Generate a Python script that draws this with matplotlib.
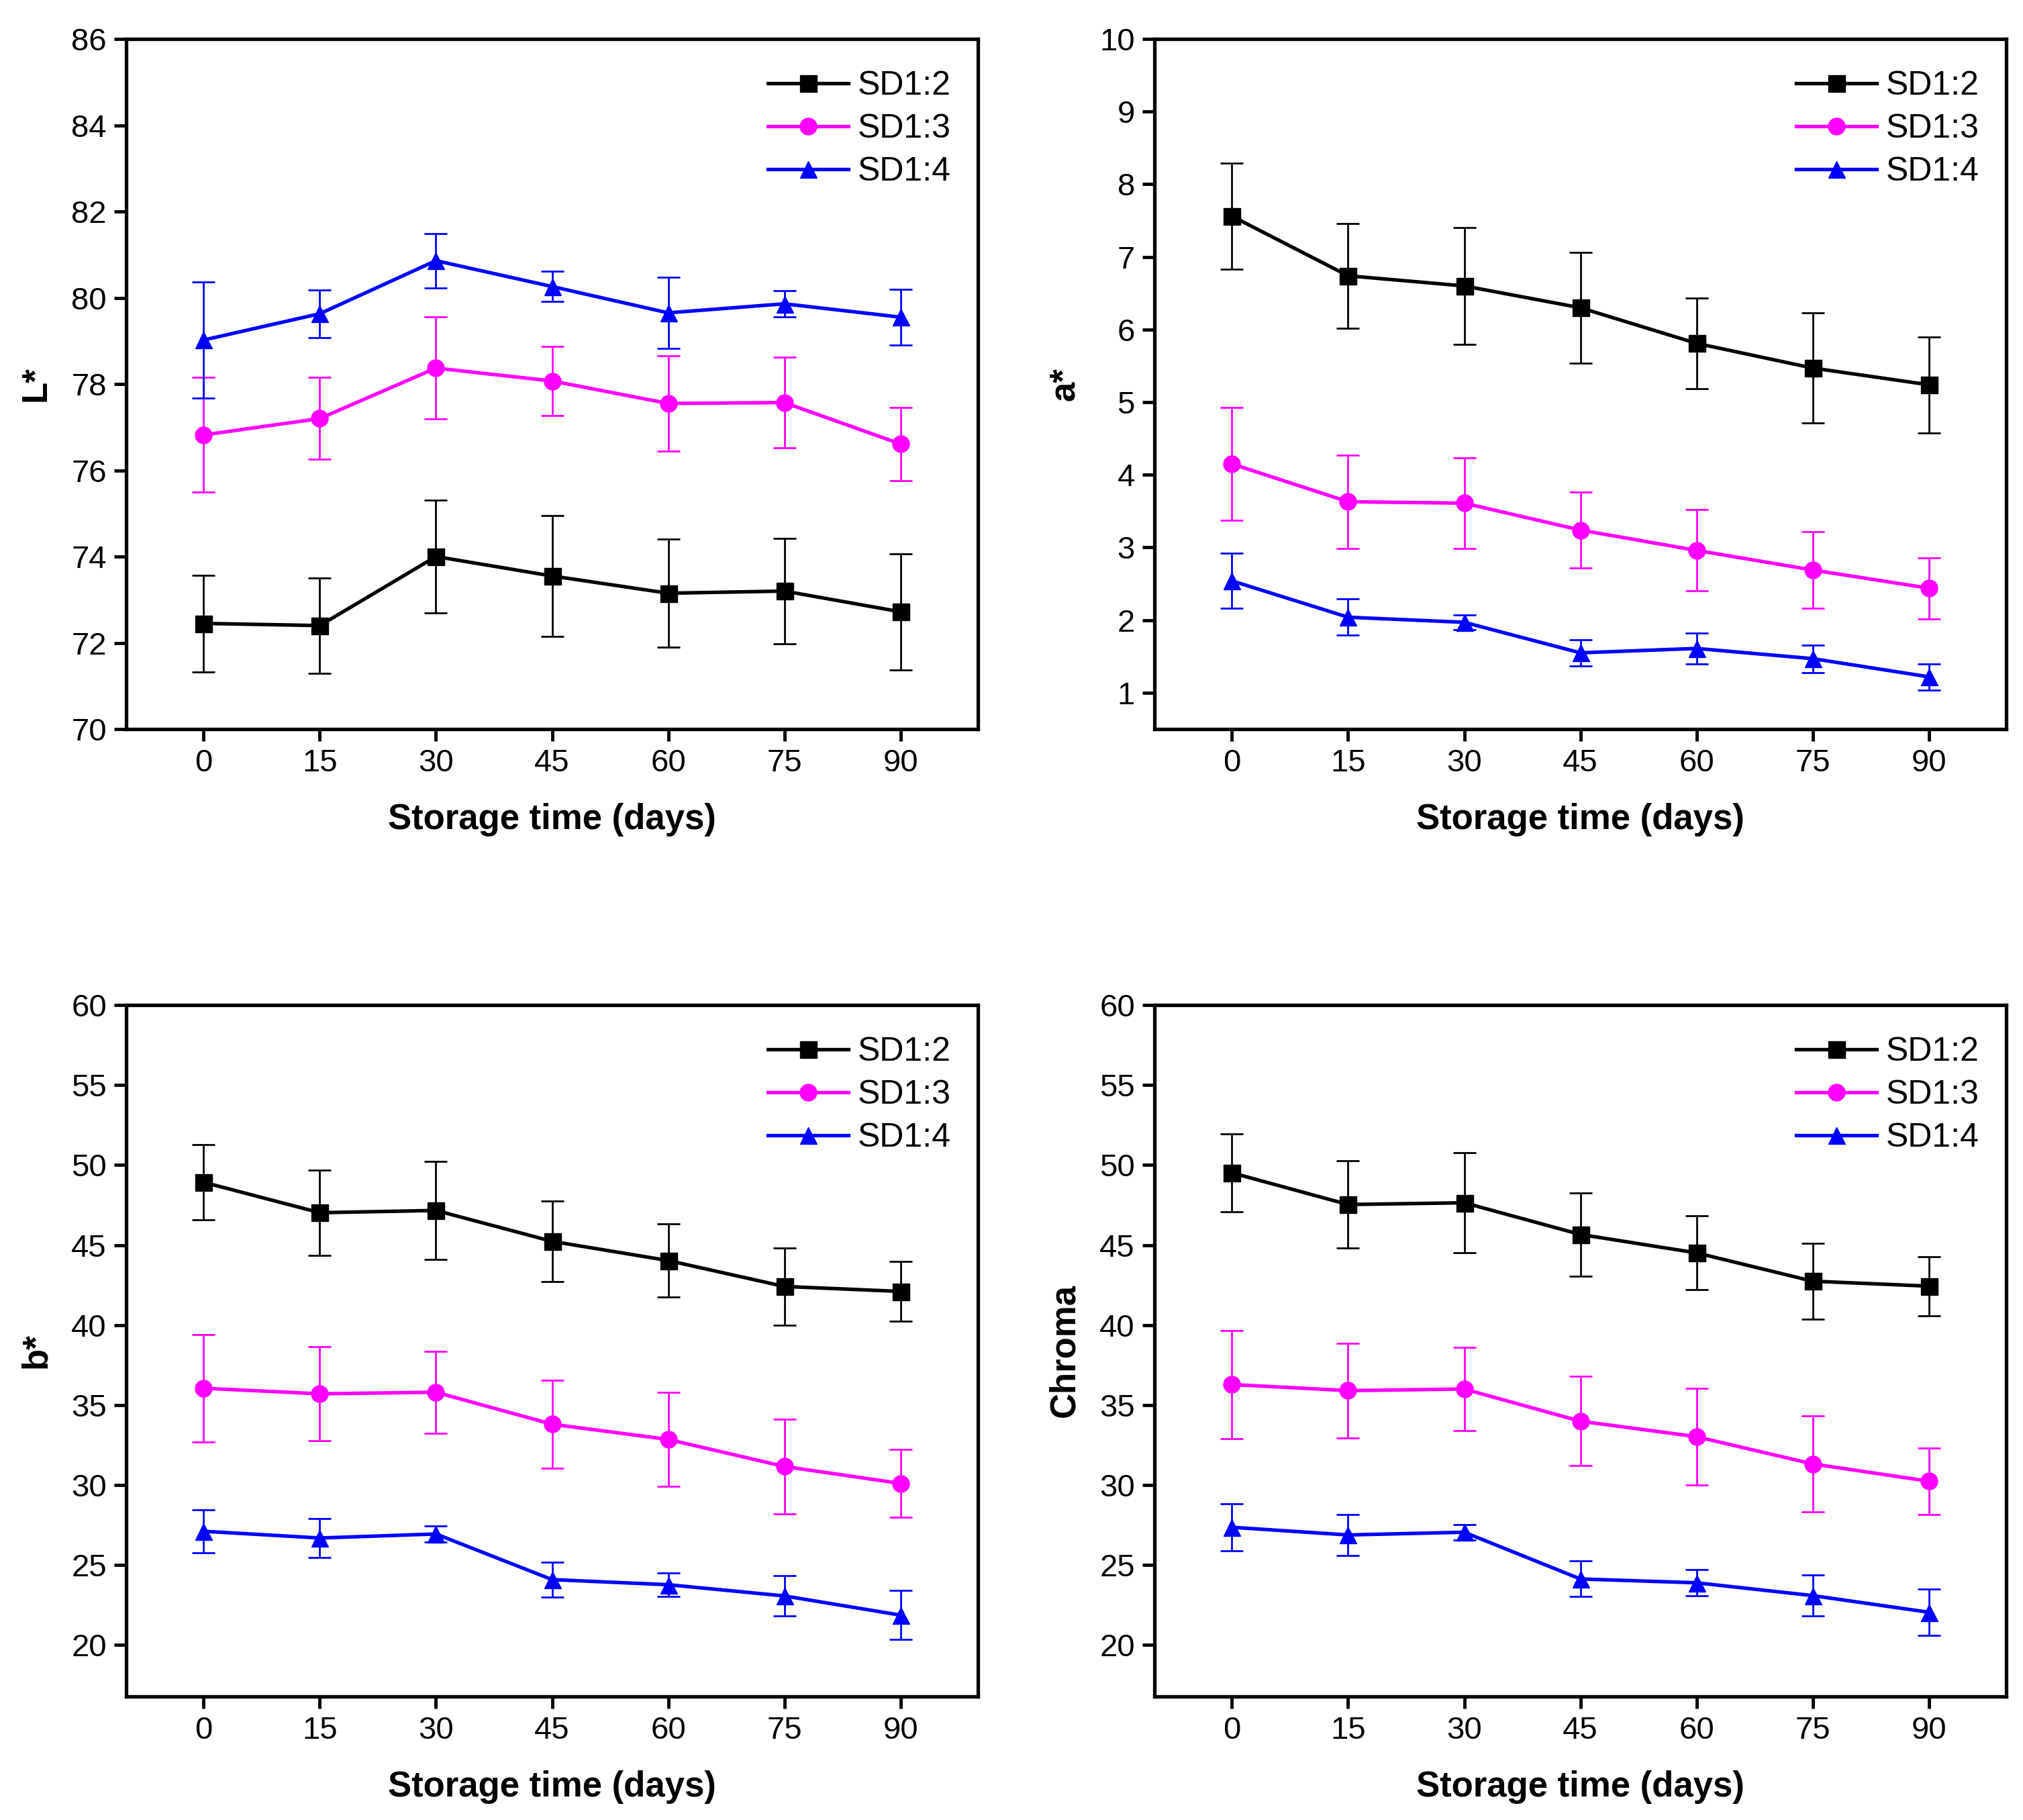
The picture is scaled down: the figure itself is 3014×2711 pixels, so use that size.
import matplotlib
matplotlib.use("Agg")
import matplotlib.pyplot as plt
from matplotlib.lines import Line2D
from matplotlib import font_manager
import numpy as np

plt.rcParams['font.family'] = ['Liberation Sans', 'DejaVu Sans']

_names = {f.name for f in font_manager.fontManager.ttflist}
tick_family = ['Liberation Sans Narrow'] if 'Liberation Sans Narrow' in _names else ['Liberation Sans']

days = [0, 15, 30, 45, 60, 75, 90]
series_names = ["SD1:2", "SD1:3", "SD1:4"]
colors = ["#000000", "#FF00FF", "#0000FF"]
markers = ["s", "o", "^"]

# L*
L_sd12 = [72.45, 72.40, 74.00, 73.55, 73.15, 73.20, 72.72]
L_sd12_err = [1.12, 1.10, 1.30, 1.40, 1.25, 1.22, 1.35]
L_sd13 = [76.82, 77.20, 78.37, 78.07, 77.55, 77.57, 76.61]
L_sd13_err = [1.33, 0.95, 1.18, 0.80, 1.10, 1.05, 0.85]
L_sd14 = [79.02, 79.63, 80.86, 80.26, 79.65, 79.86, 79.55]
L_sd14_err = [1.35, 0.55, 0.63, 0.35, 0.83, 0.30, 0.65]

# a*
a_sd12 = [7.56, 6.74, 6.60, 6.30, 5.81, 5.47, 5.24]
a_sd12_err = [0.73, 0.72, 0.80, 0.76, 0.62, 0.76, 0.66]
a_sd13 = [4.15, 3.63, 3.61, 3.24, 2.96, 2.69, 2.44]
a_sd13_err = [0.78, 0.64, 0.62, 0.52, 0.56, 0.53, 0.42]
a_sd14 = [2.54, 2.04, 1.97, 1.55, 1.61, 1.47, 1.22]
a_sd14_err = [0.38, 0.25, 0.10, 0.18, 0.21, 0.19, 0.18]

# b*
b_sd12 = [48.92, 47.02, 47.16, 45.23, 44.03, 42.41, 42.10]
b_sd12_err = [2.35, 2.65, 3.08, 2.53, 2.30, 2.42, 1.87]
b_sd13 = [36.05, 35.70, 35.80, 33.80, 32.85, 31.16, 30.10]
b_sd13_err = [3.36, 2.95, 2.55, 2.76, 2.95, 2.95, 2.13]
b_sd14 = [27.11, 26.69, 26.94, 24.09, 23.77, 23.07, 21.87]
b_sd14_err = [1.35, 1.23, 0.50, 1.10, 0.75, 1.27, 1.53]

# Chroma
c_sd12 = [49.51, 47.53, 47.64, 45.66, 44.51, 42.74, 42.43]
c_sd12_err = [2.43, 2.72, 3.12, 2.60, 2.31, 2.38, 1.84]
c_sd13 = [36.28, 35.90, 36.00, 33.99, 33.02, 31.32, 30.24]
c_sd13_err = [3.37, 2.97, 2.60, 2.79, 3.02, 3.00, 2.08]
c_sd14 = [27.36, 26.88, 27.05, 24.13, 23.89, 23.09, 22.05]
c_sd14_err = [1.46, 1.27, 0.49, 1.11, 0.81, 1.29, 1.46]

panels = [
    dict(ylabel="L*", ylim=(70, 86), yticks=np.arange(70, 87, 2),
         data=[(L_sd12, L_sd12_err), (L_sd13, L_sd13_err), (L_sd14, L_sd14_err)],
         rect=[0.0624, 0.5994, 0.4210, 0.3792]),
    dict(ylabel="a*", ylim=(0.5, 10), yticks=np.arange(1, 11, 1),
         data=[(a_sd12, a_sd12_err), (a_sd13, a_sd13_err), (a_sd14, a_sd14_err)],
         rect=[0.5707, 0.5994, 0.4210, 0.3792]),
    dict(ylabel="b*", ylim=(16.8, 60), yticks=np.arange(20, 61, 5),
         data=[(b_sd12, b_sd12_err), (b_sd13, b_sd13_err), (b_sd14, b_sd14_err)],
         rect=[0.0624, 0.0680, 0.4210, 0.3798]),
    dict(ylabel="Chroma", ylim=(16.8, 60), yticks=np.arange(20, 61, 5),
         data=[(c_sd12, c_sd12_err), (c_sd13, c_sd13_err), (c_sd14, c_sd14_err)],
         rect=[0.5707, 0.0680, 0.4210, 0.3798]),
]

fig = plt.figure(figsize=(30.14, 27.11), dpi=100)

for p in panels:
    ax = fig.add_axes(p["rect"])
    handles = []
    for (vals, errs), name, col, mk in zip(p["data"], series_names, colors, markers):
        ax.errorbar(days, vals, yerr=errs, color=col, marker=mk, markersize=18,
                    linewidth=3.8, elinewidth=2.0, capsize=12, capthick=2.0)
        handles.append(Line2D([], [], color=col, marker=mk, markersize=18,
                              linewidth=3.8, label=name))
    ax.set_xlim(-10, 100)
    ax.set_ylim(*p["ylim"])
    ax.set_xticks(days)
    ax.set_yticks(p["yticks"])
    ax.tick_params(axis='both', direction='out', length=13, width=3.5,
                   top=False, right=False)
    ax.tick_params(axis='x', pad=8)
    ax.tick_params(axis='y', pad=8)
    for lab in ax.get_xticklabels() + ax.get_yticklabels():
        lab.set_family(tick_family)
        lab.set_fontsize(34)
    for s in ax.spines.values():
        s.set_linewidth(3.8)
    ax.set_xlabel("Storage time (days)", fontsize=38, fontweight='bold')
    ax.set_ylabel(p["ylabel"], fontsize=38, fontweight='bold')
    ax.xaxis.set_label_coords(0.5, -0.107)
    ax.yaxis.set_label_coords(-0.086, 0.5)
    ax.legend(handles=handles, loc='upper right', bbox_to_anchor=(0.968, 0.954),
              frameon=False, fontsize=36, handlelength=2.4, handletextpad=0.26,
              labelspacing=0.36, borderpad=0.0, borderaxespad=0.0)

fig.savefig("out.png", dpi=100)
